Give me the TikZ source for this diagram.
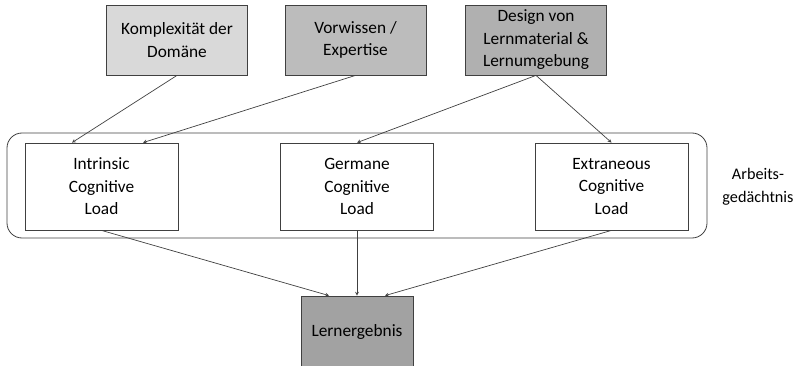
\documentclass[tikz,border=0pt]{standalone}
\usepackage{fontspec}
\setmainfont{Carlito}
\usepackage{tikz}
\usetikzlibrary{arrows, positioning}
\tikzset{>=stealth}
\definecolor{grauhell}{HTML}{D9D9D9}
\definecolor{graumittel}{HTML}{BCBCBC}
\definecolor{graudunkel}{HTML}{B0B0B0}
\definecolor{linie}{HTML}{404040}
\tikzset{
  kasten/.style={draw=linie, line width=0.8pt, align=center, inner sep=0pt,
    font=\fontsize{17.3}{22.5}\selectfont},
  einfluss/.style={kasten, minimum width=141pt, minimum height=70pt},
  last/.style={kasten, fill=white, minimum width=153pt, minimum height=87pt},
  pfeil/.style={->, line width=0.7pt, draw=linie}
}

\begin{document}
\begin{tikzpicture}[x=1pt, y=-1pt]
    \useasboundingbox (0,0) rectangle (797,366);
    % Einflussfaktoren
    \node[einfluss, fill=grauhell] (komplex) at (177,40) {Komplexität der\\Domäne};
    \node[einfluss, fill=graumittel] (vorwissen) at (355.5,40) {Vorwissen /\\Expertise};
    \node[einfluss, fill=graudunkel] (design) at (536,40) {Design von\\Lernmaterial \&\\Lernumgebung};
    % Arbeitsgedaechtnis
    \draw[draw=linie, line width=0.8pt, rounded corners=15pt] (7,133) rectangle (707,238);
    \node[font=\fontsize{16.2}{22.5}\selectfont, align=center, inner sep=0pt] (arbeit) at (758,187) {Arbeits-\\gedächtnis};
    \node[last] (intrinsic) at (101.5,186.5) {Intrinsic\\Cognitive\\Load};
    \node[last] (germane) at (357,186.5) {Germane\\Cognitive\\Load};
    \node[last] (extraneous) at (611.5,186.5) {Extraneous\\Cognitive\\Load};
    % Ergebnis
    \node[kasten, fill=graudunkel!92!black, minimum width=112pt, minimum height=72pt] (ergebnis) at (357,332) {Lernergebnis};
    % Pfeile
    \draw[pfeil] (komplex.south) -- ([xshift=-29.5pt]intrinsic.north);
    \draw[pfeil] (vorwissen.south) -- ([xshift=41.5pt]intrinsic.north);
    \draw[pfeil] (design.south) -- (germane.north);
    \draw[pfeil] (design.south) -- (extraneous.north);
    \draw[pfeil] (intrinsic.south) -- ([xshift=-28pt]ergebnis.north);
    \draw[pfeil] (germane.south) -- (ergebnis.north);
    \draw[pfeil] (extraneous.south) -- ([xshift=28pt]ergebnis.north);
\end{tikzpicture}
\end{document}
